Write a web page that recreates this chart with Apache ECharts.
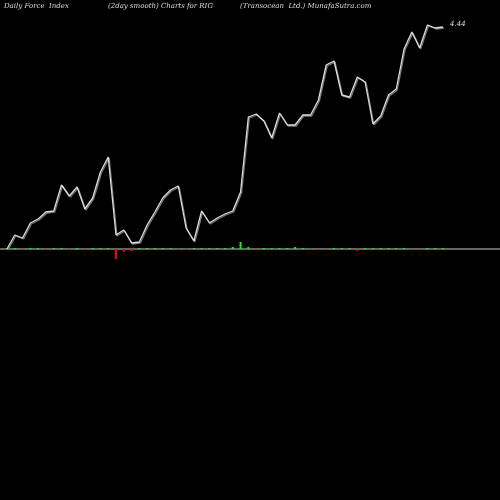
<!DOCTYPE html><html><head><meta charset="utf-8">
<script src="https://cdn.jsdelivr.net/npm/echarts@6/dist/echarts.min.js"></script>
<style>html,body{margin:0;background:#000}#c{width:500px;height:500px}</style></head><body><div id="c"></div>
<script>
const prices=[0,0.28,0.22,0.52,0.6,0.74,0.76,1.28,1.06,1.24,0.8,1.02,1.54,1.84,0.28,0.38,0.12,0.14,0.48,0.74,1.02,1.18,1.26,0.42,0.16,0.76,0.52,0.62,0.7,0.76,1.14,2.64,2.7,2.56,2.22,2.72,2.48,2.48,2.68,2.68,2.98,3.68,3.76,3.08,3.04,3.44,3.34,2.5,2.66,3.08,3.2,4.0,4.34,4.02,4.48,4.42,4.44];
const force=[0.02,0.02,-0.02,0.02,0.02,-0.02,0.02,0.02,-0.02,0.02,-0.02,0.02,0.02,0.02,-0.2,-0.06,-0.04,0.02,0.02,0.02,0.02,0.02,-0.02,-0.02,0.02,0.02,0.02,0.02,0.02,0.04,0.14,0.04,-0.02,0.02,0.02,0.02,0.02,0.04,0.02,-0.02,-0.02,-0.02,0.02,0.02,0.02,-0.04,0.02,0.02,0.02,0.02,0.02,0.02,-0.02,-0.02,0.02,0.02,0.02];
const cats=prices.map((_,i)=>i);
const chart=echarts.init(document.getElementById('c'));
const tf={fontFamily:'DejaVu Serif',fontStyle:'italic',fontSize:7,fill:'#ddd'};
chart.setOption({backgroundColor:'#000',animation:false,
grid:{left:7,right:57,top:0,bottom:226},
xAxis:{type:'category',data:cats,boundaryGap:false,show:false},
yAxis:{type:'value',min:-0.5,max:4.98,show:false},
graphic:[
{type:'line',shape:{x1:0,y1:249,x2:500,y2:249},style:{stroke:'#888',lineWidth:1.5},z:1},
{type:'text',left:4,top:3,style:Object.assign({text:'Daily Force  Index'},tf)},
{type:'text',left:108,top:3,style:Object.assign({text:'(2day smooth) Charts for RIG'},tf)},
{type:'text',left:240,top:3,style:Object.assign({text:'(Transocean  Ltd.) MunafaSutra.com'},tf)},
{type:'text',left:450,top:21,style:Object.assign({text:'4.44'},tf)}
],
series:[
{type:'bar',data:force,barWidth:2,z:3,itemStyle:{color:p=>p.value>=0?'#0f0':'#f00'}},
{type:'line',data:prices,symbol:'none',z:4,lineStyle:{color:'#ddd',width:1.3,shadowColor:'#777',shadowBlur:0,shadowOffsetX:1,shadowOffsetY:1}}
]});
</script></body></html>
